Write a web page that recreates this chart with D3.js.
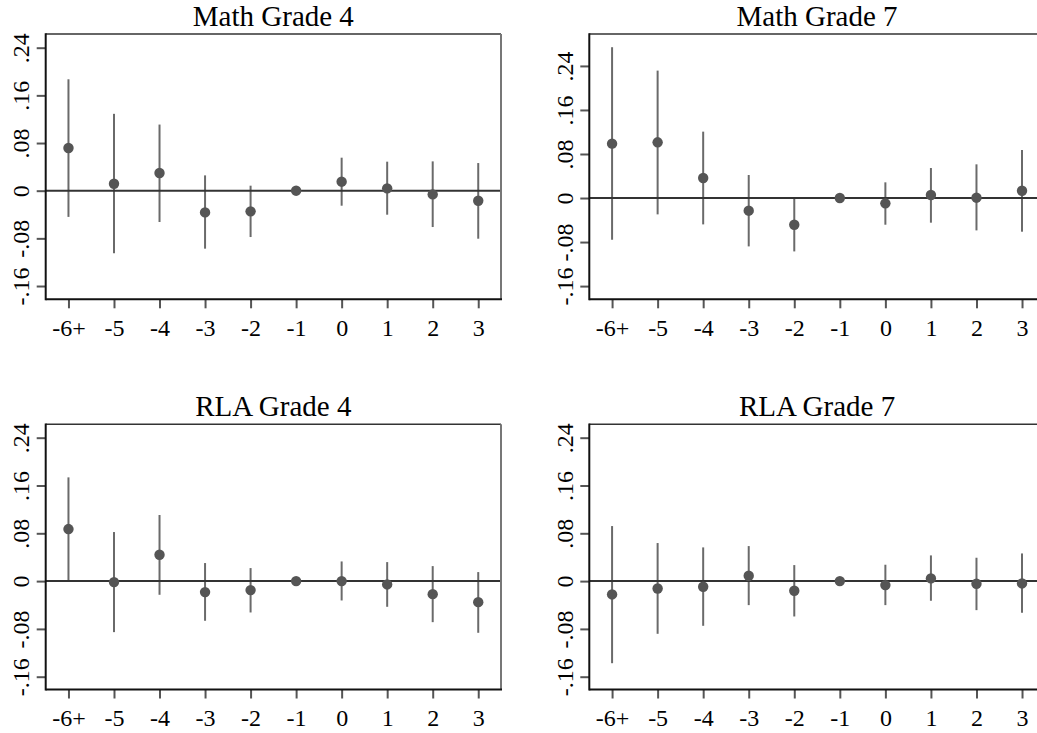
<!DOCTYPE html>
<html>
<head>
<meta charset="utf-8">
<script src="https://cdn.jsdelivr.net/npm/d3@7"></script>
<style>
  html, body { margin: 0; padding: 0; background: #fff; }
  svg { display: block; }
  text { font-family: "Liberation Serif", "Times New Roman", serif; fill: #000; }
</style>
</head>
<body>
<svg id="chart" width="1037" height="733"></svg>
<script>
// ---- data ----
const categories = ["-6+", "-5", "-4", "-3", "-2", "-1", "0", "1", "2", "3"];
const yTicks = [-0.16, -0.08, 0, 0.08, 0.16, 0.24];
const yTickLabels = ["-.16", "-.08", "0", ".08", ".16", ".24"];
const titles = ["Math Grade 4", "Math Grade 7", "RLA Grade 4", "RLA Grade 7"];

const math4Est = [0.0716, 0.0117, 0.0297, -0.0364, -0.0347, 0, 0.0151, 0.0039, -0.0062, -0.0168];
const math4Lo  = [-0.044, -0.105, -0.0526, -0.0973, -0.0778, null, -0.0252, -0.0403, -0.061, -0.0806];
const math4Hi  = [0.187, 0.129, 0.111, 0.0257, 0.0084, null, 0.0554, 0.0487, 0.0492, 0.0464];

const math7Est = [0.0988, 0.1012, 0.0364, -0.023, -0.0485, 0, -0.0097, 0.0055, 0.0006, 0.0133];
const math7Lo  = [-0.0758, -0.0297, -0.0479, -0.0879, -0.097, null, -0.0485, -0.0448, -0.0588, -0.0612];
const math7Hi  = [0.274, 0.2315, 0.1206, 0.0418, 0.0, null, 0.0285, 0.0545, 0.0612, 0.0873];

const rla4Est = [0.0871, -0.0017, 0.0441, -0.0184, -0.0151, 0, 0.0, -0.0056, -0.0218, -0.0352];
const rla4Lo  = [0.0005, -0.0854, -0.0229, -0.0664, -0.0525, null, -0.0324, -0.043, -0.0687, -0.0865];
const rla4Hi  = [0.1736, 0.0821, 0.1106, 0.0302, 0.0218, null, 0.0329, 0.0318, 0.0251, 0.0151];

const rla7Est = [-0.0223, -0.0123, -0.0095, 0.0089, -0.0162, 0, -0.0067, 0.0045, -0.0045, -0.0039];
const rla7Lo  = [-0.1374, -0.0882, -0.0748, -0.0402, -0.0592, null, -0.0402, -0.0329, -0.0486, -0.053];
const rla7Hi  = [0.0921, 0.0637, 0.0564, 0.0586, 0.0268, null, 0.0274, 0.043, 0.0391, 0.0463];

// axis ranges per panel
const yDomains = [[-0.1823, 0.263], [-0.184, 0.298], [-0.1814, 0.2624], [-0.1814, 0.2624]];

// ---- layout ----
const boxes = [
  {x0: 45.7, x1: 501, y0: 34, y1: 299.3},
  {x0: 589.3, x1: 1044.8, y0: 34, y1: 299.3},
  {x0: 45.7, x1: 501, y0: 424.3, y1: 689.5},
  {x0: 589.3, x1: 1044.8, y0: 424.3, y1: 689.5}
];
const series = [
  [math4Est, math4Lo, math4Hi],
  [math7Est, math7Lo, math7Hi],
  [rla4Est, rla4Lo, rla4Hi],
  [rla7Est, rla7Lo, rla7Hi]
];

const svg = d3.select("#chart");
svg.append("rect").attr("width", 1037).attr("height", 733).attr("fill", "#fff");

boxes.forEach((b, i) => {
  const g = svg.append("g");
  const x = d3.scalePoint().domain(categories).range([b.x0, b.x1]).padding(0.5);
  const y = d3.scaleLinear().domain(yDomains[i]).range([b.y1, b.y0]);
  const [est, lo, hi] = series[i];
  const rows = categories.map((c, k) => ({c, est: est[k], lo: lo[k], hi: hi[k]}));

  // title
  g.append("text")
    .attr("x", (b.x0 + b.x1) / 2)
    .attr("y", b.y0 - 8.5)
    .attr("text-anchor", "middle")
    .style("font-size", "29px")
    .text(titles[i]);

  // y axis
  const ya = g.append("g").attr("transform", `translate(${b.x0},0)`)
    .call(d3.axisLeft(y).tickValues(yTicks).tickSize(9).tickFormat((d, k) => yTickLabels[k]));
  ya.select(".domain").remove();
  ya.selectAll(".tick line").attr("stroke", "#555").attr("stroke-width", 2);
  ya.selectAll(".tick text")
    .attr("x", null).attr("dy", null)
    .attr("transform", "translate(-16.5,0) rotate(-90)")
    .attr("text-anchor", "middle")
    .style("font-size", "24px")
    .style("font-family", "'Liberation Serif', serif")
    .attr("fill", "#000");

  // x axis
  const xa = g.append("g").attr("transform", `translate(0,${b.y1})`)
    .call(d3.axisBottom(x).tickSize(9));
  xa.select(".domain").remove();
  xa.selectAll(".tick line").attr("stroke", "#555").attr("stroke-width", 2);
  xa.selectAll(".tick text")
    .attr("dy", null).attr("y", 36.5)
    .style("font-size", "24px")
    .style("font-family", "'Liberation Serif', serif")
    .attr("fill", "#000");

  // CI lines
  g.selectAll(".ci").data(rows.filter(r => r.lo !== null))
    .enter().append("line")
    .attr("x1", d => x(d.c)).attr("x2", d => x(d.c))
    .attr("y1", d => y(d.lo)).attr("y2", d => y(d.hi))
    .attr("stroke", "#6a6a6a").attr("stroke-width", 2);

  // zero line
  g.append("line")
    .attr("x1", b.x0).attr("x2", b.x1)
    .attr("y1", y(0)).attr("y2", y(0))
    .attr("stroke", "#333").attr("stroke-width", 2);

  // dots
  g.selectAll(".pt").data(rows)
    .enter().append("circle")
    .attr("cx", d => x(d.c)).attr("cy", d => y(d.est))
    .attr("r", 5.2).attr("fill", "#555");

  // frame
  g.append("line").attr("x1", b.x0).attr("x2", b.x1).attr("y1", b.y0).attr("y2", b.y0)
    .attr("stroke", "#333").attr("stroke-width", 1.5);
  g.append("line").attr("x1", b.x1).attr("x2", b.x1).attr("y1", b.y0).attr("y2", b.y1)
    .attr("stroke", "#777").attr("stroke-width", 2);
  g.append("line").attr("x1", b.x0).attr("x2", b.x1 + 1).attr("y1", b.y1).attr("y2", b.y1)
    .attr("stroke", "#111").attr("stroke-width", 2);
  g.append("line").attr("x1", b.x0).attr("x2", b.x0).attr("y1", b.y0 - 0.75).attr("y2", b.y1 + 1)
    .attr("stroke", "#111").attr("stroke-width", 2);
});
</script>
</body>
</html>
